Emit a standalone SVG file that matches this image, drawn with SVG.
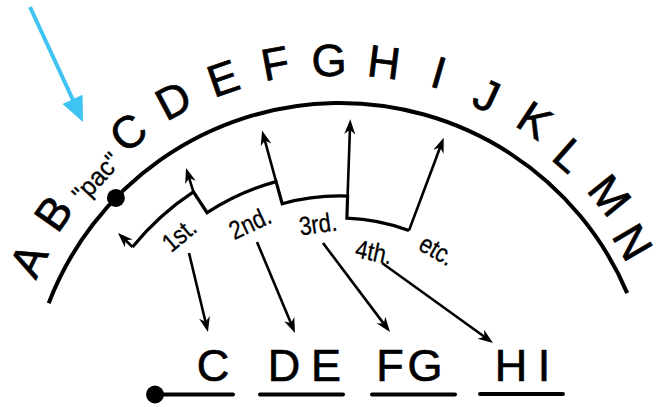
<svg xmlns="http://www.w3.org/2000/svg" width="662" height="407" viewBox="0 0 662 407">
<style>
.big{font-family:"Liberation Sans",Arial,sans-serif;font-size:45px;fill:#000;stroke:#000;stroke-width:0.7;text-anchor:middle}
.lab{font-family:"Liberation Sans",Arial,sans-serif;font-size:26px;fill:#000;stroke:#000;stroke-width:0.3;text-anchor:middle}
.ln{fill:none;stroke:#000;stroke-width:3.2;stroke-linejoin:miter}
.ar{fill:none;stroke:#000;stroke-width:2.6;marker-end:url(#ah)}
.ul{stroke:#000;stroke-width:4;stroke-linecap:round}
</style>
<defs>
<marker id="ah" markerUnits="userSpaceOnUse" markerWidth="20" markerHeight="16" viewBox="-16 -8 20 16" refX="-8" refY="0" orient="auto">
<path d="M0,0 L-15,-5.5 L-10.5,0 L-15,5.5 Z" fill="#000"/>
</marker>
</defs>
<rect width="662" height="407" fill="#fff"/>

<g id="outer-arc">
<path d="M48.7,303.2 A312,312 0 0,1 627.2,293.1" fill="none" stroke="#000" stroke-width="4"/>
<circle cx="115.9" cy="197.9" r="9" fill="#000"/>
</g>

<g id="alphabet">
<text class="big" transform="translate(28,260) rotate(-63.6)" y="16">A</text>
<text class="big" transform="translate(53,213) rotate(-54.9)" y="16">B</text>
<text class="lab" transform="translate(97,178) rotate(-47) scale(0.95,1)" y="8" font-size="26">"pac"</text>
<text class="big" transform="translate(128,132) rotate(-36.8)" y="16">C</text>
<text class="big" transform="translate(173,100) rotate(-27.9)" y="16">D</text>
<text class="big" transform="translate(223,78) rotate(-19.1)" y="16">E</text>
<text class="big" transform="translate(275,63) rotate(-10.5)" y="16">F</text>
<text class="big" transform="translate(329,60) rotate(-1.8)" y="16">G</text>
<text class="big" transform="translate(384,62) rotate(7.1)" y="16">H</text>
<text class="big" transform="translate(439,72) rotate(16.1)" y="16">I</text>
<text class="big" transform="translate(487,95) rotate(24.7)" y="16">J</text>
<text class="big" transform="translate(535,120) rotate(33.5)" y="16">K</text>
<text class="big" transform="translate(570,155) rotate(41.5)" y="16">L</text>
<text class="big" transform="translate(610,195) rotate(51)" y="16">M</text>
<text class="big" transform="translate(633,242) rotate(59.7)" y="16">N</text>
</g>

<g id="steps">
<path class="ln" d="M132.5,247 A267,267 0 0,1 193.4,191.8 L207.1,212.7 A242,242 0 0,1 276.1,181.6 L282.2,203.7 A219,219 0 0,1 347.6,196.1 L346.9,218.1 A197,197 0 0,1 409,230.5"/>
<text class="lab" transform="translate(179,235) rotate(-40) scale(0.85,1)" y="9">1st.</text>
<text class="lab" transform="translate(250,223) rotate(-25) scale(0.85,1)" y="9">2nd.</text>
<text class="lab" transform="translate(318,224) rotate(-8) scale(0.85,1)" y="9">3rd.</text>
<text class="lab" transform="translate(374,252) rotate(12) scale(0.85,1)" y="9">4th.</text>
<text class="lab" transform="translate(437,250) rotate(30) scale(0.85,1)" y="9">etc.</text>
</g>

<g id="result">
<text class="big" x="213" y="381">C</text>
<text class="big" x="284" y="381">D</text>
<text class="big" x="326" y="381">E</text>
<text class="big" x="390" y="381">F</text>
<text class="big" x="425" y="381">G</text>
<text class="big" x="511" y="381">H</text>
<text class="big" x="544" y="381">I</text>
<circle cx="155" cy="394.5" r="9" fill="#000"/>
<line class="ul" x1="155" y1="394.5" x2="233" y2="394.5"/>
<line class="ul" x1="260" y1="394.5" x2="343" y2="394.5"/>
<line class="ul" x1="372" y1="394.5" x2="455" y2="394.5"/>
<line class="ul" x1="480" y1="394" x2="563" y2="394"/>
</g>

<g id="connectors">
<line class="ar" x1="132.5" y1="247" x2="123.7" y2="238.5"/>
<line class="ar" x1="193.4" y1="191.8" x2="188.4" y2="175.6"/>
<line class="ar" x1="276.1" y1="181.6" x2="264.2" y2="138.1"/>
<line class="ar" x1="347.6" y1="196.1" x2="350" y2="127.2"/>
<line class="ar" x1="409" y1="230.5" x2="440.9" y2="145.2"/>
<line class="ar" x1="189" y1="253" x2="206.1" y2="324.2"/>
<line class="ar" x1="257" y1="242" x2="291.9" y2="325.6"/>
<line class="ar" x1="323" y1="243" x2="385.2" y2="325.6"/>
<line class="ar" x1="382" y1="263" x2="486.5" y2="338.3"/>
<line x1="30" y1="7" x2="73" y2="100" stroke="#3FC3F2" stroke-width="4"/>
<polygon points="83,122 62.5,103.9 82.5,94.7" fill="#3FC3F2"/>
</g>
</svg>
